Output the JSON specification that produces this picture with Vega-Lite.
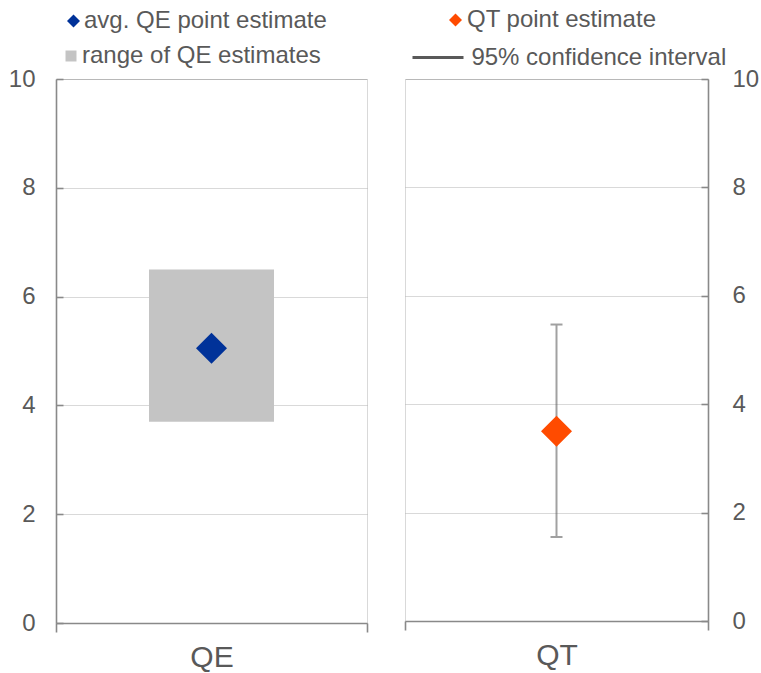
{
  "$schema": "https://vega.github.io/schema/vega-lite/v6.json",
  "background": "white",
  "padding": {"left": 7, "top": 7, "right": 0, "bottom": 0},
  "spacing": 34,
  "config": {
    "font": "Liberation Sans",
    "view": {"stroke": "#d9d9d9", "strokeWidth": 1},
    "axis": {
      "labelFont": "Liberation Sans",
      "labelFontSize": 24,
      "labelColor": "#595959",
      "domainColor": "#898989",
      "domainWidth": 1.6,
      "tickColor": "#898989",
      "tickWidth": 1.6,
      "gridColor": "#000000",
      "gridOpacity": 0.15,
      "gridWidth": 1,
      "zindex": 1
    },
    "legend": {
      "labelFont": "Liberation Sans",
      "labelFontSize": 24,
      "labelColor": "#595959",
      "labelLimit": 500,
      "padding": 0,
      "symbolOpacity": 1
    }
  },
  "hconcat": [
    {
      "width": 311,
      "height": 544,
      "data": {"values": [
        {"instrument": "QE", "point": 5.05, "low": 3.7, "high": 6.5,
         "pointLabel": "avg. QE point estimate", "rangeLabel": "range of QE estimates"}
      ]},
      "encoding": {
        "x": {
          "field": "instrument", "type": "nominal",
          "scale": {"paddingInner": 0, "paddingOuter": 0},
          "axis": {"title": null, "labelAngle": 0, "labelFontSize": 30, "labelPadding": 10,
                   "tickSize": 9, "tickBand": "extent", "grid": false}
        }
      },
      "layer": [
        {
          "mark": {"type": "bar", "size": 125, "opacity": 1},
          "encoding": {
            "y": {"field": "low", "type": "quantitative",
                  "scale": {"domain": [0, 10], "nice": false},
                  "axis": {"title": null, "values": [0, 2, 4, 6, 8, 10], "tickSize": -7,
                           "labelPadding": 28, "grid": true}},
            "y2": {"field": "high"},
            "color": {"field": "rangeLabel", "type": "nominal",
                      "scale": {"range": ["#c4c4c4"]},
                      "legend": {"orient": "none", "legendX": 3, "legendY": -35, "title": null,
                                 "symbolType": "square", "symbolSize": 121, "labelOffset": -1}}
          }
        },
        {
          "mark": {"type": "point", "shape": "diamond", "filled": true, "size": 961, "opacity": 1},
          "encoding": {
            "y": {"field": "point", "type": "quantitative"},
            "color": {"field": "pointLabel", "type": "nominal",
                      "scale": {"range": ["#003299"]},
                      "legend": {"orient": "none", "legendX": 5.5, "legendY": -70, "title": null,
                                 "symbolType": "diamond", "symbolSize": 169, "labelOffset": -1.5}}
          }
        }
      ],
      "resolve": {"scale": {"color": "independent"}, "legend": {"color": "independent"}}
    },
    {
      "width": 303,
      "height": 542,
      "data": {"values": [
        {"instrument": "QT", "point": 3.5, "low": 1.55, "high": 5.47,
         "pointLabel": "QT point estimate", "ciLabel": "95% confidence interval"}
      ]},
      "encoding": {
        "x": {
          "field": "instrument", "type": "nominal",
          "scale": {"paddingInner": 0, "paddingOuter": 0},
          "axis": {"title": null, "labelAngle": 0, "labelFontSize": 30, "labelPadding": 10,
                   "tickSize": 9, "tickBand": "extent", "grid": false}
        }
      },
      "layer": [
        {
          "mark": {"type": "rule", "strokeWidth": 2, "opacity": 0.57},
          "encoding": {
            "y": {"field": "low", "type": "quantitative",
                  "scale": {"domain": [0, 10], "nice": false},
                  "axis": {"title": null, "orient": "right", "values": [0, 2, 4, 6, 8, 10],
                           "tickSize": -7, "labelPadding": 31, "grid": true}},
            "y2": {"field": "high"},
            "color": {"field": "ciLabel", "type": "nominal",
                      "scale": {"range": ["#595959"]},
                      "legend": {"orient": "none", "legendX": 6, "legendY": -48.5, "title": null,
                                 "symbolType": "stroke", "symbolSize": 2601, "symbolStrokeWidth": 3,
                                 "labelOffset": 6.4}}
          }
        },
        {
          "mark": {"type": "tick", "size": 12, "thickness": 2, "color": "#a0a0a0", "opacity": 1},
          "encoding": {"y": {"field": "low", "type": "quantitative"}}
        },
        {
          "mark": {"type": "tick", "size": 12, "thickness": 2, "color": "#a0a0a0", "opacity": 1},
          "encoding": {"y": {"field": "high", "type": "quantitative"}}
        },
        {
          "mark": {"type": "point", "shape": "diamond", "filled": true, "size": 961, "opacity": 1},
          "encoding": {
            "y": {"field": "point", "type": "quantitative"},
            "color": {"field": "pointLabel", "type": "nominal",
                      "scale": {"range": ["#ff4b00"]},
                      "legend": {"orient": "none", "legendX": 38.5, "legendY": -71, "title": null,
                                 "symbolType": "diamond", "symbolSize": 169, "labelOffset": -0.5}}
          }
        }
      ],
      "resolve": {"scale": {"color": "independent"}, "legend": {"color": "independent"}}
    }
  ]
}
